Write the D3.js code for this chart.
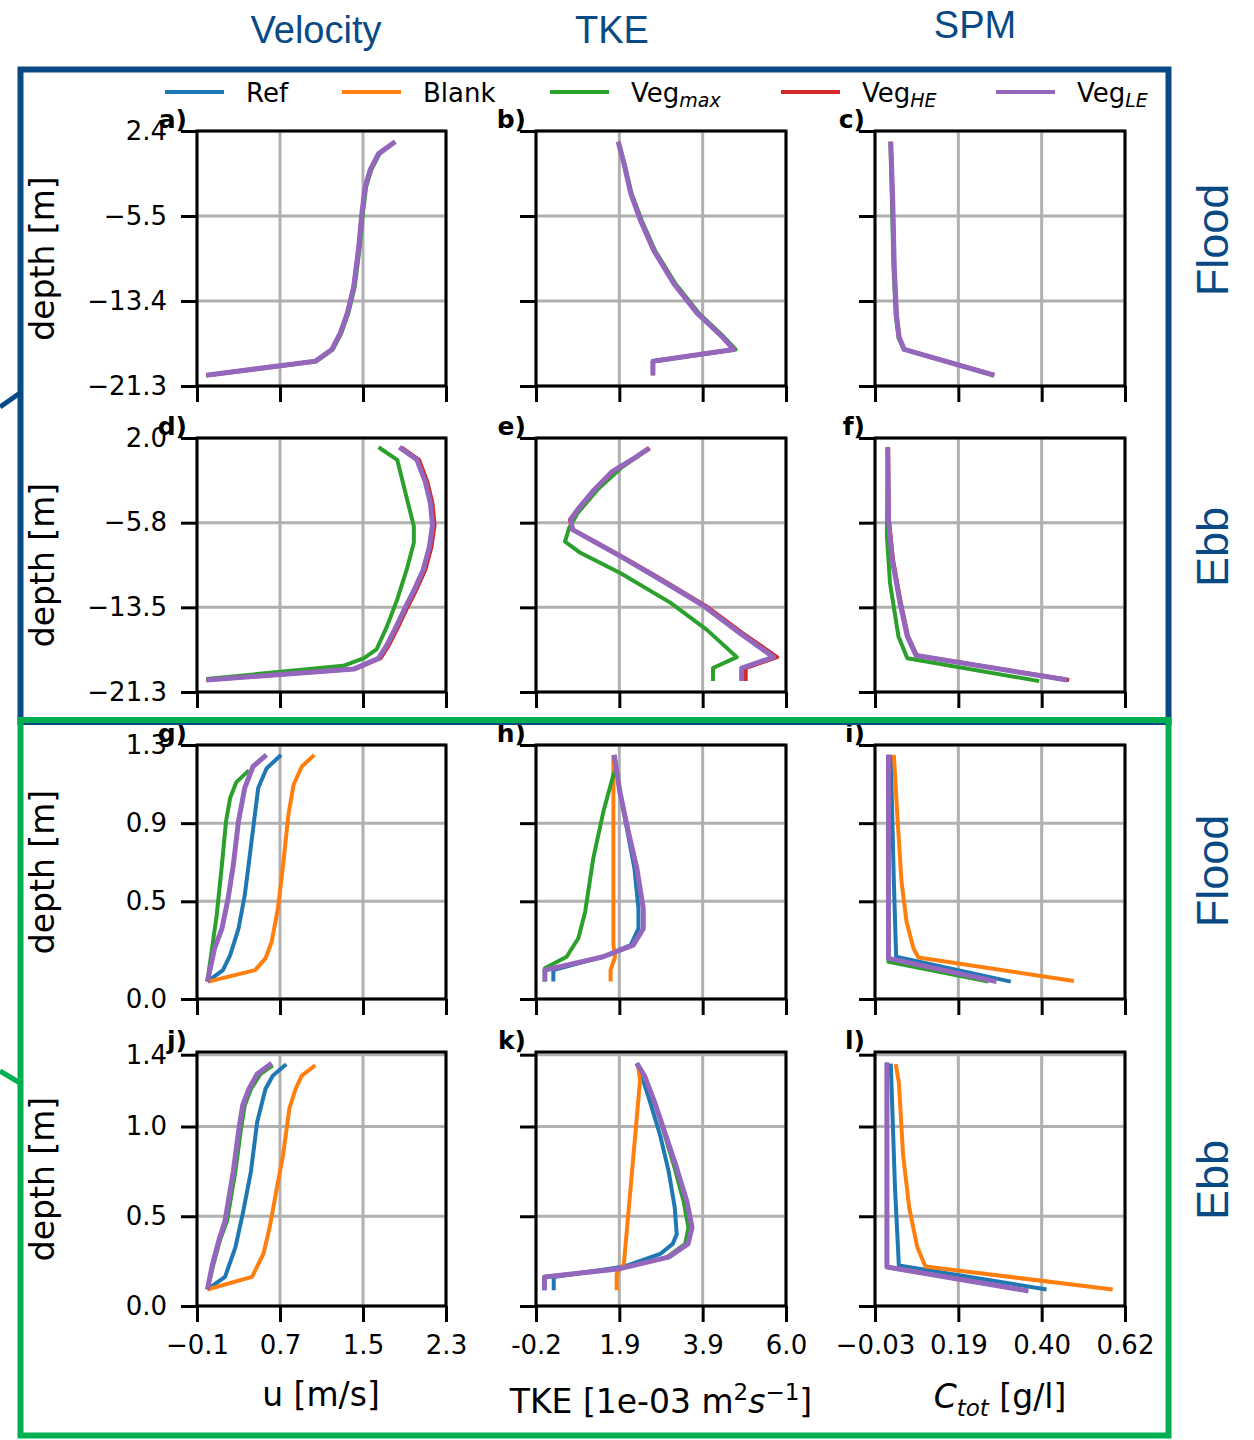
<!DOCTYPE html>
<html>
<head>
<meta charset="utf-8">
<script src="https://cdn.jsdelivr.net/npm/d3@7"></script>
<style>
  body { margin: 0; background: #fff; }
</style>
</head>
<body>
<script>
// ---------- data (value, depth) ----------
const seriesNames = ["Ref", "Blank", "Veg_max", "Veg_HE", "Veg_LE"];

// row 1: flood, large domain
const a_VegMax = [[1.81,1.4],[1.66,0.3],[1.58,-1.2],[1.53,-2.8],[1.50,-5.2],[1.47,-8.3],[1.42,-12.1],[1.36,-14.5],[1.29,-16.4],[1.21,-17.9],[1.05,-19.0],[-0.01,-20.3]];
const a_VegHE  = [[1.81,1.4],[1.65,0.3],[1.57,-1.2],[1.52,-2.8],[1.49,-5.2],[1.46,-8.3],[1.41,-12.1],[1.35,-14.5],[1.28,-16.4],[1.20,-17.9],[1.04,-19.0],[-0.01,-20.3]];
const a_VegLE  = [[1.81,1.4],[1.65,0.3],[1.57,-1.2],[1.52,-2.8],[1.49,-5.2],[1.46,-8.3],[1.41,-12.1],[1.35,-14.5],[1.28,-16.4],[1.20,-17.9],[1.04,-19.0],[-0.01,-20.3]];

const b_VegMax = [[1.84,1.4],[1.99,-0.6],[2.17,-3.4],[2.42,-5.9],[2.75,-8.7],[3.26,-11.8],[3.83,-14.5],[4.45,-16.7],[4.75,-17.9],[2.70,-19.0],[2.70,-20.3]];
const b_VegHE  = [[1.84,1.4],[1.98,-0.6],[2.15,-3.4],[2.39,-5.9],[2.72,-8.7],[3.22,-11.8],[3.79,-14.5],[4.41,-16.7],[4.71,-17.9],[2.70,-19.0],[2.70,-20.3]];
const b_VegLE  = [[1.84,1.4],[1.98,-0.6],[2.15,-3.4],[2.39,-5.9],[2.72,-8.7],[3.22,-11.8],[3.79,-14.5],[4.41,-16.7],[4.70,-17.9],[2.70,-19.0],[2.70,-20.3]];

const c_VegMax = [[0.010,1.4],[0.014,-4.0],[0.018,-10.2],[0.024,-14.8],[0.031,-16.8],[0.045,-17.9],[0.28,-20.3]];
const c_VegHE  = [[0.011,1.4],[0.016,-4.0],[0.020,-10.2],[0.026,-14.8],[0.033,-16.8],[0.046,-17.9],[0.28,-20.3]];
const c_VegLE  = [[0.011,1.4],[0.016,-4.0],[0.020,-10.2],[0.026,-14.8],[0.033,-16.8],[0.046,-17.9],[0.28,-20.3]];

// row 2: ebb, large domain
const d_VegMax = [[1.65,1.15],[1.83,0.0],[1.91,-3.06],[1.99,-6.1],[1.99,-7.6],[1.92,-10.1],[1.83,-12.8],[1.73,-15.3],[1.63,-17.4],[1.51,-18.2],[1.31,-18.9],[-0.01,-20.1]];
const d_VegHE  = [[1.87,1.15],[2.04,0.0],[2.12,-2.0],[2.17,-4.0],[2.19,-6.0],[2.16,-8.0],[2.10,-10.1],[2.01,-12.0],[1.93,-13.5],[1.84,-15.3],[1.75,-17.0],[1.67,-18.2],[1.42,-19.2],[-0.01,-20.2]];
const d_VegLE  = [[1.85,1.15],[2.02,0.0],[2.10,-2.0],[2.15,-4.0],[2.17,-6.0],[2.14,-8.0],[2.08,-10.1],[1.99,-12.0],[1.91,-13.5],[1.82,-15.3],[1.73,-17.0],[1.65,-18.2],[1.41,-19.2],[-0.01,-20.2]];

const e_VegMax = [[2.60,1.06],[1.90,-0.77],[1.32,-2.76],[0.83,-4.9],[0.62,-6.26],[0.52,-7.5],[0.91,-8.55],[1.90,-10.4],[3.13,-13.1],[4.04,-15.6],[4.78,-18.1],[4.19,-19.1],[4.19,-20.3]];
const e_VegHE  = [[2.62,1.06],[2.25,0.14],[1.70,-1.08],[1.24,-2.76],[0.82,-4.59],[0.64,-5.5],[0.70,-6.4],[1.26,-7.5],[1.93,-8.86],[2.93,-11.0],[4.01,-13.4],[4.92,-15.9],[5.78,-18.1],[5.00,-19.1],[5.00,-20.3]];
const e_VegLE  = [[2.60,1.06],[2.23,0.14],[1.69,-1.08],[1.24,-2.76],[0.83,-4.59],[0.66,-5.5],[0.71,-6.4],[1.24,-7.5],[1.90,-8.86],[2.89,-11.0],[3.96,-13.4],[4.86,-15.9],[5.69,-18.1],[4.90,-19.1],[4.90,-20.3]];

const f_VegMax = [[0.003,1.15],[0.001,-7.0],[0.009,-11.3],[0.031,-16.2],[0.054,-18.2],[0.397,-20.3]];
const f_VegHE  = [[0.004,1.15],[0.006,-5.5],[0.017,-9.2],[0.037,-13.1],[0.056,-16.2],[0.079,-17.96],[0.475,-20.2]];
const f_VegLE  = [[0.003,1.15],[0.005,-5.5],[0.015,-9.2],[0.035,-13.1],[0.054,-16.2],[0.077,-17.96],[0.47,-20.2]];

// row 3: flood, small domain
const g_Ref    = [[0.71,1.249],[0.57,1.18],[0.49,1.08],[0.45,0.91],[0.41,0.74],[0.36,0.53],[0.30,0.36],[0.22,0.225],[0.15,0.148],[0.0,0.089]];
const g_Blank  = [[1.03,1.249],[0.91,1.19],[0.83,1.095],[0.78,0.94],[0.73,0.686],[0.68,0.464],[0.62,0.293],[0.56,0.208],[0.46,0.148],[0.01,0.089]];
const g_VegMax = [[0.40,1.17],[0.28,1.11],[0.22,1.03],[0.18,0.91],[0.14,0.686],[0.09,0.43],[0.0,0.089]];
const g_VegLE  = [[0.57,1.25],[0.44,1.19],[0.36,1.08],[0.30,0.91],[0.25,0.686],[0.20,0.515],[0.14,0.36],[0.07,0.26],[0.0,0.089]];

const h_Ref    = [[1.74,1.249],[1.88,1.06],[2.07,0.856],[2.24,0.67],[2.34,0.464],[2.34,0.36],[2.15,0.276],[1.45,0.216],[0.23,0.148],[0.23,0.089]];
const h_Blank  = [[1.72,1.249],[1.72,0.7],[1.72,0.276],[1.76,0.216],[1.65,0.148],[1.65,0.089]];
const h_VegMax = [[1.74,1.163],[1.47,0.958],[1.22,0.72],[1.02,0.447],[0.85,0.311],[0.56,0.216],[0.02,0.157],[0.02,0.089]];
const h_VegLE  = [[1.74,1.249],[1.88,1.06],[2.09,0.856],[2.30,0.67],[2.46,0.464],[2.46,0.36],[2.21,0.276],[1.47,0.216],[0.02,0.148],[0.02,0.089]];

const i_Ref    = [[0.011,1.25],[0.019,0.60],[0.025,0.216],[0.323,0.089]];
const i_Blank  = [[0.019,1.25],[0.028,0.94],[0.039,0.60],[0.052,0.395],[0.070,0.26],[0.083,0.212],[0.487,0.092]];
const i_VegMax = [[0.005,1.25],[0.005,0.19],[0.265,0.089]];
const i_VegLE  = [[0.005,1.25],[0.005,0.208],[0.286,0.089]];

// row 4: ebb, small domain
const j_Ref    = [[0.76,1.347],[0.63,1.283],[0.56,1.209],[0.48,1.025],[0.42,0.75],[0.34,0.511],[0.27,0.327],[0.17,0.162],[0.0,0.092]];
const j_Blank  = [[1.04,1.341],[0.91,1.283],[0.85,1.209],[0.79,1.099],[0.73,0.842],[0.67,0.658],[0.60,0.437],[0.54,0.29],[0.43,0.162],[0.0,0.092]];
const j_VegMax = [[0.63,1.341],[0.51,1.292],[0.42,1.209],[0.36,1.117],[0.32,0.97],[0.27,0.75],[0.19,0.474],[0.12,0.364],[0.06,0.235],[0.0,0.092]];
const j_VegLE  = [[0.62,1.352],[0.48,1.292],[0.40,1.209],[0.34,1.117],[0.30,0.97],[0.25,0.75],[0.17,0.474],[0.11,0.364],[0.05,0.235],[0.0,0.092]];

const k_Ref    = [[2.30,1.352],[2.42,1.283],[2.63,1.136],[2.88,0.95],[3.09,0.75],[3.24,0.55],[3.29,0.40],[3.19,0.346],[2.88,0.29],[2.0,0.22],[0.24,0.162],[0.24,0.088]];
const k_Blank  = [[2.33,1.347],[2.38,1.255],[1.98,0.235],[1.80,0.18],[1.80,0.088]];
const k_VegMax = [[2.30,1.352],[2.49,1.283],[2.74,1.136],[2.97,0.97],[3.24,0.768],[3.46,0.584],[3.58,0.437],[3.50,0.346],[3.05,0.272],[1.88,0.208],[0.01,0.162],[0.01,0.088]];
const k_VegLE  = [[2.30,1.352],[2.49,1.283],[2.74,1.136],[2.99,0.97],[3.29,0.768],[3.54,0.584],[3.67,0.437],[3.57,0.346],[3.09,0.272],[1.88,0.208],[0.01,0.162],[0.01,0.088]];

const l_Ref    = [[0.011,1.35],[0.022,0.658],[0.032,0.226],[0.416,0.092]];
const l_Blank  = [[0.024,1.347],[0.032,1.246],[0.043,0.842],[0.059,0.547],[0.080,0.327],[0.101,0.22],[0.588,0.092]];
const l_VegMax = [[0.001,1.356],[0.001,0.217],[0.362,0.086]];
const l_VegLE  = [[0.001,1.356],[0.001,0.217],[0.369,0.084]];

// axis domains / ticks
const xDomains = [[-0.1, 2.3], [-0.2, 6.0], [-0.03, 0.62]];
const yDomains = [[-21.3, 2.4], [-21.3, 2.0], [0, 1.3], [0, 1.415]];
const xTicks = [[-0.1, 0.7, 1.5, 2.3], [-0.2, 1.8667, 3.9333, 6.0], [-0.03, 0.18667, 0.40333, 0.62]];
const xTickLabels = [["\u22120.1", "0.7", "1.5", "2.3"], ["-0.2", "1.9", "3.9", "6.0"], ["\u22120.03", "0.19", "0.40", "0.62"]];
const yTicks = [[-21.3, -13.4, -5.5, 2.4], [-21.3, -13.5333, -5.7667, 2.0], [0, 0.5, 0.9, 1.3], [0, 0.5, 1.0, 1.4]];
const yTickLabels = [["\u221221.3", "\u221213.4", "\u22125.5", "2.4"], ["\u221221.3", "\u221213.5", "\u22125.8", "2.0"],
                     ["0.0", "0.5", "0.9", "1.3"], ["0.0", "0.5", "1.0", "1.4"]];
const colTitles = ["Velocity", "TKE", "SPM"];
const rowTitles = ["Flood", "Ebb", "Flood", "Ebb"];
const panelLetters = ["a)", "b)", "c)", "d)", "e)", "f)", "g)", "h)", "i)", "j)", "k)", "l)"];

const panelData = [
  {Veg_max: a_VegMax, Veg_HE: a_VegHE, Veg_LE: a_VegLE},
  {Veg_max: b_VegMax, Veg_HE: b_VegHE, Veg_LE: b_VegLE},
  {Veg_max: c_VegMax, Veg_HE: c_VegHE, Veg_LE: c_VegLE},
  {Veg_max: d_VegMax, Veg_HE: d_VegHE, Veg_LE: d_VegLE},
  {Veg_max: e_VegMax, Veg_HE: e_VegHE, Veg_LE: e_VegLE},
  {Veg_max: f_VegMax, Veg_HE: f_VegHE, Veg_LE: f_VegLE},
  {Ref: g_Ref, Blank: g_Blank, Veg_max: g_VegMax, Veg_LE: g_VegLE},
  {Ref: h_Ref, Blank: h_Blank, Veg_max: h_VegMax, Veg_LE: h_VegLE},
  {Ref: i_Ref, Blank: i_Blank, Veg_max: i_VegMax, Veg_LE: i_VegLE},
  {Ref: j_Ref, Blank: j_Blank, Veg_max: j_VegMax, Veg_LE: j_VegLE},
  {Ref: k_Ref, Blank: k_Blank, Veg_max: k_VegMax, Veg_LE: k_VegLE},
  {Ref: l_Ref, Blank: l_Blank, Veg_max: l_VegMax, Veg_LE: l_VegLE}
];

// ---------- layout / style ----------
const colors = {Ref: "#1f77b4", Blank: "#ff7f0e", Veg_max: "#2ca02c", Veg_HE: "#d62728", Veg_LE: "#9467bd"};
const widths = {Ref: 4, Blank: 4, Veg_max: 4, Veg_HE: 4, Veg_LE: 5};
const colX = [[197, 446], [536, 786], [875, 1125]];
const rowY = [[131, 386], [438, 692], [745, 999], [1052, 1306]];
const blue = "#0a4a84", green = "#00b050";
const mono = "DejaVu Sans", sans = "Liberation Sans";

const svg = d3.select("body").append("svg")
    .attr("width", 1254).attr("height", 1440)
    .style("background", "#fff");

// connector stubs on the left edge
svg.append("line").attr("x1", 0).attr("y1", 407).attr("x2", 20).attr("y2", 393)
    .attr("stroke", blue).attr("stroke-width", 5);
svg.append("line").attr("x1", 0).attr("y1", 1071).attr("x2", 20).attr("y2", 1083)
    .attr("stroke", green).attr("stroke-width", 5);

// column titles
const titleX = [316, 612, 975], titleY = [43, 43, 38];
colTitles.forEach((t, c) => {
  svg.append("text").attr("x", titleX[c]).attr("y", titleY[c])
     .attr("text-anchor", "middle").attr("font-family", sans).attr("font-size", 38)
     .attr("fill", blue).text(t);
});

// panels
panelData.forEach((series, i) => {
  const r = Math.floor(i / 3), c = i % 3;
  const x = d3.scaleLinear().domain(xDomains[c]).range(colX[c]);
  const y = d3.scaleLinear().domain(yDomains[r]).range([rowY[r][1], rowY[r][0]]);
  const g = svg.append("g");

  // grid
  g.append("g").selectAll("line").data(xTicks[c]).join("line")
    .attr("x1", d => x(d)).attr("x2", d => x(d))
    .attr("y1", rowY[r][0]).attr("y2", rowY[r][1])
    .attr("stroke", "#b0b0b0").attr("stroke-width", 3);
  g.append("g").selectAll("line").data(yTicks[r]).join("line")
    .attr("y1", d => y(d)).attr("y2", d => y(d))
    .attr("x1", colX[c][0]).attr("x2", colX[c][1])
    .attr("stroke", "#b0b0b0").attr("stroke-width", 3);

  // axes
  const yAxis = d3.axisLeft(y).tickValues(yTicks[r]).tickSize(16).tickPadding(14)
    .tickFormat((d, k) => c === 0 ? yTickLabels[r][k] : "");
  const xAxis = d3.axisBottom(x).tickValues(xTicks[c]).tickSize(16).tickPadding(14)
    .tickFormat((d, k) => r === 3 ? xTickLabels[c][k] : "");
  [g.append("g").attr("transform", `translate(${colX[c][0]},0)`).call(yAxis),
   g.append("g").attr("transform", `translate(0,${rowY[r][1]})`).call(xAxis)].forEach(ax => {
    ax.select(".domain").remove();
    ax.selectAll(".tick line").attr("stroke", "#000").attr("stroke-width", 3);
    ax.selectAll(".tick text").attr("fill", "#000").attr("font-family", mono).attr("font-size", 26);
  });

  // profiles
  const line = d3.line().x(d => x(d[0])).y(d => y(d[1]));
  seriesNames.forEach(name => {
    if (!series[name]) return;
    g.append("path").datum(series[name])
      .attr("d", line).attr("fill", "none")
      .attr("stroke", colors[name]).attr("stroke-width", widths[name])
      .attr("stroke-linejoin", "round").attr("stroke-linecap", "butt");
  });

  // spines
  g.append("rect")
    .attr("x", colX[c][0]).attr("y", rowY[r][0])
    .attr("width", colX[c][1] - colX[c][0]).attr("height", rowY[r][1] - rowY[r][0])
    .attr("fill", "none").attr("stroke", "#000").attr("stroke-width", 3);

  // panel letter
  g.append("text").attr("x", colX[c][0] - 10).attr("y", rowY[r][0] - 3)
    .attr("text-anchor", "end").attr("font-family", mono).attr("font-weight", "bold")
    .attr("font-size", 25).text(panelLetters[i]);

  // y label
  if (c === 0) {
    const cy = (rowY[r][0] + rowY[r][1]) / 2;
    g.append("text").attr("transform", `translate(54,${cy}) rotate(-90)`)
      .attr("text-anchor", "middle").attr("font-family", mono).attr("font-size", 33)
      .text("depth [m]");
  }
});

// x labels
const xl = svg.append("g").attr("font-family", mono).attr("font-size", 33).attr("text-anchor", "middle");
xl.append("text").attr("x", 321).attr("y", 1406).text("u [m/s]");
const tke = xl.append("text").attr("x", 661).attr("y", 1413);
tke.append("tspan").text("TKE [1e-03 m");
tke.append("tspan").attr("font-size", 23).attr("dy", -13).text("2");
tke.append("tspan").attr("font-style", "italic").attr("dy", 13).text("s");
tke.append("tspan").attr("font-size", 23).attr("dy", -13).text("\u22121");
tke.append("tspan").attr("dy", 13).text("]");
const ctot = xl.append("text").attr("x", 1000).attr("y", 1408);
ctot.append("tspan").attr("font-style", "italic").text("C");
ctot.append("tspan").attr("font-style", "italic").attr("font-size", 23).attr("dy", 8).text("tot");
ctot.append("tspan").attr("dy", -8).text(" [g/l]");

// row titles
const rowCy = [240, 547, 871, 1180];
rowTitles.forEach((t, r) => {
  svg.append("text").attr("transform", `translate(1228,${rowCy[r]}) rotate(-90)`)
    .attr("text-anchor", "middle").attr("font-family", sans).attr("font-size", 45)
    .attr("fill", blue).text(t);
});

// frames
svg.append("rect").attr("x", 20.5).attr("y", 69.5).attr("width", 1148).attr("height", 652.5)
  .attr("fill", "none").attr("stroke", blue).attr("stroke-width", 6);
svg.append("rect").attr("x", 20.5).attr("y", 720).attr("width", 1148).attr("height", 715.5)
  .attr("fill", "none").attr("stroke", green).attr("stroke-width", 6);

// legend
const legendX = [165, 342, 550, 781, 996];
const legendMain = ["Ref", "Blank", "Veg", "Veg", "Veg"];
const legendSub = ["", "", "max", "HE", "LE"];
const lg = svg.append("g");
seriesNames.forEach((name, k) => {
  lg.append("line").attr("x1", legendX[k]).attr("x2", legendX[k] + 59)
    .attr("y1", 92).attr("y2", 92)
    .attr("stroke", colors[name]).attr("stroke-width", 4);
  const t = lg.append("text").attr("x", legendX[k] + 81).attr("y", 102)
    .attr("font-family", mono).attr("font-size", 26).text(legendMain[k]);
  if (legendSub[k]) {
    t.append("tspan").attr("font-style", "italic").attr("font-size", 19).attr("dy", 5).text(legendSub[k]);
  }
});
</script>
</body>
</html>
